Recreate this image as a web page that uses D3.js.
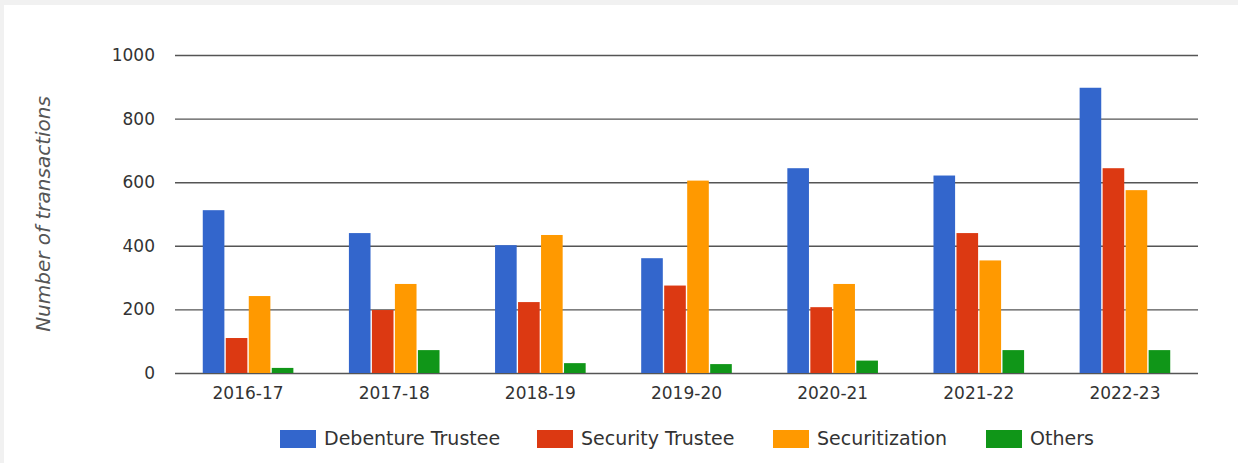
<!DOCTYPE html>
<head>
  <title>Transactions</title>
  <meta charset="utf-8">
  <script type="text/javascript" src="https://cdn.jsdelivr.net/npm/d3@7"></script>
  <style>
    body { margin: 0; background: #f1f1f1; }
    text { font-family: "DejaVu Sans", Verdana, sans-serif; }
  </style>
</head>
<body>
<script>
  var years = ["2016-17", "2017-18", "2018-19", "2019-20", "2020-21", "2021-22", "2022-23"];
  var seriesNames = ["Debenture Trustee", "Security Trustee", "Securitization", "Others"];
  var debenture = [512, 440, 402, 361, 644, 621, 897];
  var security = [110, 198, 223, 275, 207, 440, 644];
  var securitization = [242, 280, 434, 605, 280, 354, 575];
  var others = [16, 72, 31, 28, 39, 72, 72];
  var yTicks = [0, 200, 400, 600, 800, 1000];
  var colors = ["#3366cc", "#dc3912", "#ff9900", "#109618"];

  var allSeries = [debenture, security, securitization, others];

  var width = 1238, height = 463;
  var margin = {top: 55, right: 40, bottom: 90, left: 175};

  var svg = d3.select("body").append("svg")
    .attr("width", width)
    .attr("height", height);

  // white card
  svg.append("rect")
    .attr("x", 4).attr("y", 5)
    .attr("width", width - 4).attr("height", height - 5)
    .attr("fill", "#fff");

  var x0 = d3.scaleBand()
    .domain(years)
    .range([margin.left, width - margin.right])
    .paddingInner(0.38)
    .paddingOuter(0.19);

  var x1 = d3.scaleBand()
    .domain(d3.range(seriesNames.length))
    .range([0, x0.bandwidth()])
    .paddingInner(0.06);

  var y = d3.scaleLinear()
    .domain([0, 1000])
    .range([height - margin.bottom, margin.top]);

  // grid
  var grid = svg.append("g")
    .call(d3.axisLeft(y).tickValues(yTicks).tickSize(-(width - margin.left - margin.right)).tickFormat(""))
    .attr("transform", "translate(" + margin.left + ",0)");
  grid.select(".domain").remove();
  grid.selectAll("line").attr("stroke", "#555").attr("stroke-width", 1.4);

  // y labels
  var yAxis = svg.append("g")
    .attr("transform", "translate(" + (margin.left - 20) + ",0)")
    .call(d3.axisLeft(y).tickValues(yTicks).tickSize(0).tickPadding(0).tickFormat(d3.format("d")));
  yAxis.select(".domain").remove();
  yAxis.selectAll("text")
    .attr("font-size", 17)
    .attr("fill", "#333")
    .style("font-family", "DejaVu Sans");

  // bars
  var groups = svg.append("g").selectAll("g")
    .data(years)
    .enter().append("g")
    .attr("transform", function(d) { return "translate(" + x0(d) + ",0)"; });

  groups.selectAll("rect")
    .data(function(d, i) { return allSeries.map(function(s, k) { return {k: k, v: s[i]}; }); })
    .enter().append("rect")
    .attr("x", function(d) { return x1(d.k); })
    .attr("y", function(d) { return y(d.v); })
    .attr("width", x1.bandwidth())
    .attr("height", function(d) { return y(0) - y(d.v); })
    .attr("fill", function(d) { return colors[d.k]; });

  // x labels
  var xAxis = svg.append("g")
    .attr("transform", "translate(0," + (y(0) + 14) + ")")
    .call(d3.axisBottom(x0).tickSize(0).tickPadding(0));
  xAxis.select(".domain").remove();
  xAxis.selectAll("text")
    .attr("font-size", 17)
    .attr("fill", "#333")
    .style("font-family", "DejaVu Sans");

  // axis title
  svg.append("text")
    .attr("transform", "translate(50," + ((y(0) + y(1000)) / 2) + ") rotate(-90)")
    .attr("text-anchor", "middle")
    .attr("font-size", 20)
    .attr("font-style", "italic")
    .attr("fill", "#555")
    .text("Number of transactions");

  // legend
  var legendX = [280, 537, 773, 986];
  var legend = svg.append("g");
  for (let i = 0; i < seriesNames.length; i++) {
    legend.append("rect")
      .attr("x", legendX[i])
      .attr("y", 430)
      .attr("width", 36)
      .attr("height", 18)
      .attr("fill", colors[i]);
    legend.append("text")
      .attr("x", legendX[i] + 44)
      .attr("y", 445)
      .attr("font-size", 19)
      .attr("fill", "#333")
      .text(seriesNames[i]);
  }
</script>
</body>
